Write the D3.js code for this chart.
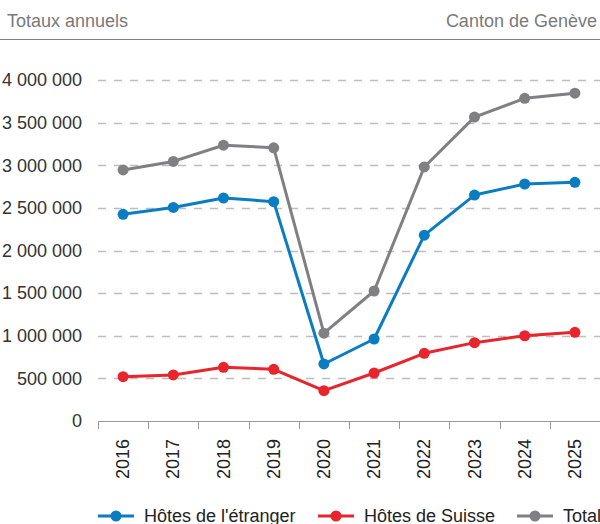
<!DOCTYPE html>
<html>
<head>
<meta charset="utf-8">
<script src="https://cdn.jsdelivr.net/npm/d3@7"></script>
<style>
  body { margin: 0; background: #fff; }
  svg { display: block; font-family: "Liberation Sans", Arial, sans-serif; }
</style>
</head>
<body>
<script>
// donnees
const years = ["2016", "2017", "2018", "2019", "2020", "2021", "2022", "2023", "2024", "2025"];
const etranger = [2425000, 2505000, 2616000, 2573000, 669000, 962000, 2180000, 2650000, 2780000, 2800000];
const suisse = [520000, 540000, 630000, 606000, 356000, 563000, 794000, 919000, 1000000, 1040000];
const total = [2945000, 3045000, 3235000, 3205000, 1030000, 1525000, 2980000, 3565000, 3785000, 3845000];
const yTicks = [0, 500000, 1000000, 1500000, 2000000, 2500000, 3000000, 3500000, 4000000];

const series = [
    { name: "Hôtes de l'étranger", values: etranger, color: "#0a7dc2" },
    { name: "Hôtes de Suisse", values: suisse, color: "#e8242c" },
    { name: "Total", values: total, color: "#808083" }
];

const W = 600, H = 524;
const svg = d3.select("body").append("svg").attr("width", W).attr("height", H);

// en-tete
svg.append("text").attr("x", 7).attr("y", 27)
    .attr("font-size", 18).attr("fill", "#7a7a7a").text("Totaux annuels");
svg.append("text").attr("x", 597).attr("y", 27).attr("text-anchor", "end")
    .attr("font-size", 18).attr("fill", "#7a7a7a").text("Canton de Genève");
svg.append("line").attr("x1", 0).attr("x2", W).attr("y1", 39.5).attr("y2", 39.5)
    .attr("stroke", "#808080").attr("stroke-width", 1);

const x = d3.scaleBand().domain(years).range([98, 600]);
const y = d3.scaleLinear().domain([0, 4000000]).range([421, 80]);
const cx = d => x(d) + x.bandwidth() / 2;

const fmt = d3.formatLocale({ decimal: ",", thousands: " ", grouping: [3], currency: ["", ""] }).format(",d");

// grille
svg.append("g").selectAll("line").data(yTicks.filter(d => d > 0)).join("line")
    .attr("x1", 98).attr("x2", 600)
    .attr("y1", d => Math.round(y(d)) + 0.5).attr("y2", d => Math.round(y(d)) + 0.5)
    .attr("stroke", "#bdbdbd").attr("stroke-width", 1.6).attr("stroke-dasharray", "8,8");

// axe y
svg.append("g").selectAll("text").data(yTicks).join("text")
    .attr("x", 82).attr("y", d => y(d)).attr("dy", "0.35em")
    .attr("text-anchor", "end").attr("font-size", 18).attr("fill", "#333")
    .text(d => fmt(d));

// axe x
const xAxis = svg.append("g");
xAxis.append("line").attr("x1", 98).attr("x2", 600)
    .attr("y1", y(0) + 0.5).attr("y2", y(0) + 0.5).attr("stroke", "#999");
xAxis.selectAll("line.tk").data(years).join("line").attr("class", "tk")
    .attr("x1", d => Math.round(x(d)) + 0.5).attr("x2", d => Math.round(x(d)) + 0.5)
    .attr("y1", y(0)).attr("y2", y(0) + 8).attr("stroke", "#999");
xAxis.selectAll("text").data(years).join("text")
    .attr("transform", d => `translate(${cx(d) + 6},439) rotate(-90)`)
    .attr("text-anchor", "end").attr("font-size", 18).attr("fill", "#222")
    .text(d => d);

// courbes
const line = d3.line().x((d, i) => cx(years[i])).y(d => y(d));
series.slice().reverse().forEach(s => {
    const g = svg.append("g");
    g.append("path").datum(s.values).attr("d", line)
        .attr("fill", "none").attr("stroke", s.color).attr("stroke-width", 3)
        .attr("stroke-linejoin", "round");
    g.selectAll("circle").data(s.values).join("circle")
        .attr("cx", (d, i) => cx(years[i])).attr("cy", d => y(d))
        .attr("r", 5.5).attr("fill", s.color);
});

// legende
const legX = [98, 318, 517];
const leg = svg.append("g");
series.forEach((s, i) => {
    const g = leg.append("g").attr("transform", `translate(${legX[i]},516)`);
    g.append("line").attr("x1", 0).attr("x2", 36).attr("stroke", s.color).attr("stroke-width", 3);
    g.append("circle").attr("cx", 18).attr("r", 5.5).attr("fill", s.color);
    g.append("text").attr("x", 46).attr("dy", "0.35em")
        .attr("font-size", 18).attr("fill", "#222").text(s.name);
});
</script>
</body>
</html>
